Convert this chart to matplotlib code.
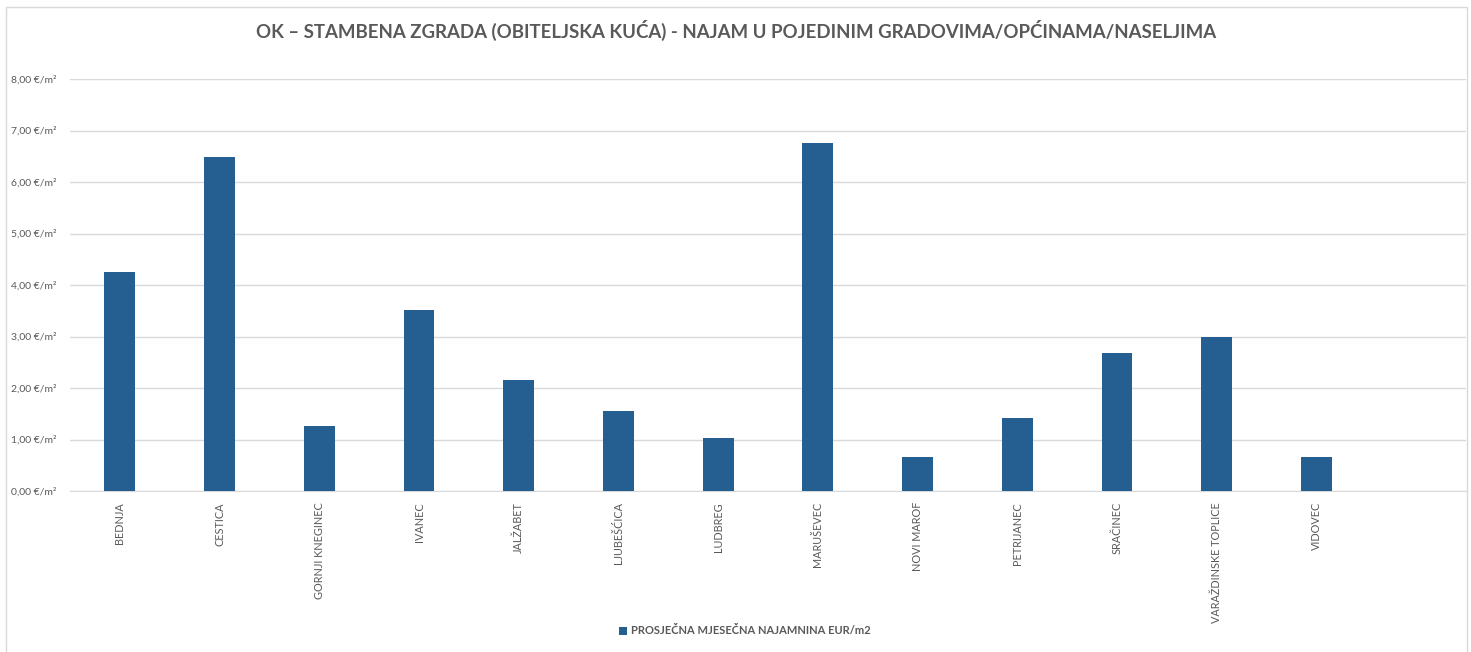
import matplotlib
matplotlib.use("Agg")
import matplotlib.pyplot as plt
from matplotlib.patches import Rectangle

# podaci
mjesta = ["BEDNJA", "CESTICA", "GORNJI KNEGINEC", "IVANEC", "JALŽABET", "LJUBEŠĆICA",
          "LUDBREG", "MARUŠEVEC", "NOVI MAROF", "PETRIJANEC", "SRAČINEC",
          "VARAŽDINSKE TOPLICE", "VIDOVEC", ""]
najamnina = [4.25, 6.49, 1.26, 3.51, 2.16, 1.55, 1.03, 6.76, 0.66, 1.42, 2.68, 2.99, 0.66, 0]
y_ticks = [0, 1, 2, 3, 4, 5, 6, 7, 8]
y_labels = ["%.2f €/m²" % v for v in y_ticks]
y_labels = [s.replace(".", ",") for s in y_labels]

plt.rcParams['font.family'] = ['Lato', 'DejaVu Sans']
siva = '#595959'
plava = '#255e91'

fig = plt.figure(figsize=(14.71, 6.52), dpi=100)
fig.patches.append(Rectangle((6 / 1471, -0.01), 1461 / 1471, 1 - 7 / 652 + 0.01,
                             transform=fig.transFigure, fill=False,
                             edgecolor='#d9d9d9', linewidth=1))

ax = fig.add_axes([70 / 1471, 1 - 491 / 652, 1396 / 1471, (491 - 79) / 652])
x = list(range(len(mjesta)))
ax.bar(x, najamnina, width=0.31, color=plava, zorder=3,
       label="PROSJEČNA MJESEČNA NAJAMNINA EUR/m2")

ax.set_xlim(-0.5, len(mjesta) - 0.5)
ax.set_ylim(0, 8)
ax.set_yticks(y_ticks)
ax.set_yticklabels(y_labels, fontsize=7.5, color=siva)
ax.set_xticks(x)
ax.set_xticklabels(mjesta, rotation=90, fontsize=7.8, color=siva)
ax.tick_params(length=0, pad=8)
ax.tick_params(axis='y', pad=10)
ax.grid(axis='y', color='#d9d9d9', linewidth=1, zorder=0)
for s in ['top', 'right', 'left']:
    ax.spines[s].set_visible(False)
ax.spines['bottom'].set_color('#d9d9d9')

fig.text(736 / 1471, 1 - 30 / 652, "OK – STAMBENA ZGRADA (OBITELJSKA KUĆA) - NAJAM U POJEDINIM GRADOVIMA/OPĆINAMA/NASELJIMA",
         ha='center', va='center', fontsize=13.4, fontweight='bold', color=siva)

fig.legend(loc='center', bbox_to_anchor=(745 / 1471, 1 - 631 / 652), frameon=False,
           labelcolor=siva, handlelength=0.7, handleheight=0.7,
           handletextpad=0.4, prop={'weight': 'bold', 'size': 8})

fig.savefig("out.png", dpi=100)
